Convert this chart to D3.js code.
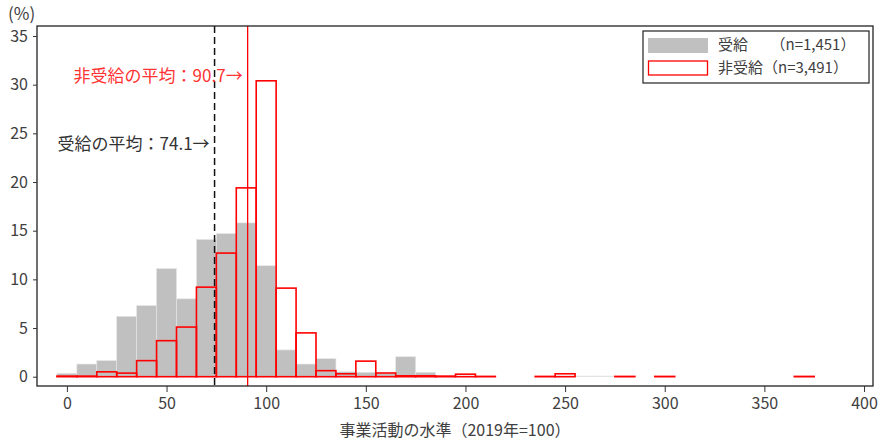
<!DOCTYPE html>
<html>
<head>
<meta charset="utf-8">
<script src="https://cdn.jsdelivr.net/npm/d3@7"></script>
<style>
  body { margin: 0; background: #fff; }
  svg text { font-family: "Noto Sans CJK JP", "Noto Sans", sans-serif; }
</style>
</head>
<body>
<svg id="chart"></svg>
<script>
// bins are 10 wide, centred on the listed value
const receivedCenters = [0, 10, 20, 30, 40, 50, 60, 70, 80, 90, 100, 110, 120, 130, 140, 150, 160, 170, 180, 190, 200, 210, 250, 260, 270];
const receivedValues  = [0.35, 1.3, 1.65, 6.2, 7.3, 11.1, 8.0, 14.1, 14.7, 15.8, 11.4, 2.75, 1.3, 1.85, 0.5, 0.45, 0.35, 2.05, 0.45, 0.07, 0.07, 0.07, 0.07, 0.07, 0.07];

const nonCenters = [0, 10, 20, 30, 40, 50, 60, 70, 80, 90, 100, 110, 120, 130, 140, 150, 160, 170, 180, 190, 200, 210, 240, 250, 280, 300, 370];
const nonValues  = [0.06, 0.06, 0.5, 0.37, 1.65, 3.7, 5.1, 9.2, 12.7, 19.4, 30.4, 9.1, 4.5, 0.62, 0.3, 1.6, 0.38, 0.09, 0.09, 0.06, 0.26, 0.03, 0.03, 0.3, 0.03, 0.03, 0.03];

const binWidth = 10;
const meanReceived = 74.1;
const meanNon = 90.7;

const xTicks = [0, 50, 100, 150, 200, 250, 300, 350, 400];
const yTicks = [0, 5, 10, 15, 20, 25, 30, 35];

const legendLabels = ["受給　　（n=1,451）", "非受給（n=3,491）"];
const xTitle = "事業活動の水準（2019年=100）";
const yTitle = "(%)";

const width = 879, height = 444;
const plot = {left: 37, top: 26, right: 873, bottom: 386};
const textColor = "#404040";

const svg = d3.select("#chart").attr("width", width).attr("height", height);

let x = d3.scaleLinear().domain([-15, 404.5]).range([plot.left, plot.right]);
let y = d3.scaleLinear().domain([-0.955, 36.03]).range([plot.bottom, plot.top]);

let received = receivedCenters.map((c, i) => ({c: c, v: receivedValues[i]}));
let non = nonCenters.map((c, i) => ({c: c, v: nonValues[i]}));

// gray bars
svg.append("g").selectAll("rect")
  .data(received)
  .enter().append("rect")
  .attr("x", d => x(d.c - binWidth / 2))
  .attr("width", d => x(d.c + binWidth / 2) - x(d.c - binWidth / 2))
  .attr("y", d => y(d.v))
  .attr("height", d => y(0) - y(d.v))
  .attr("fill", "#c0c0c0")
  .attr("stroke", "#e4e4e4")
  .attr("stroke-width", 0.6);

// red outline bars
svg.append("g").selectAll("rect")
  .data(non)
  .enter().append("rect")
  .attr("x", d => x(d.c - binWidth / 2))
  .attr("width", d => x(d.c + binWidth / 2) - x(d.c - binWidth / 2))
  .attr("y", d => y(d.v))
  .attr("height", d => y(0) - y(d.v))
  .attr("fill", "none")
  .attr("stroke", "#ff0000")
  .attr("stroke-width", 1.6);

// mean lines
svg.append("line")
  .attr("x1", x(meanReceived)).attr("x2", x(meanReceived))
  .attr("y1", plot.top).attr("y2", plot.bottom)
  .attr("stroke", "#111").attr("stroke-width", 1.5)
  .attr("stroke-dasharray", "7,4");

svg.append("line")
  .attr("x1", x(meanNon)).attr("x2", x(meanNon))
  .attr("y1", plot.top).attr("y2", plot.bottom)
  .attr("stroke", "#ff0000").attr("stroke-width", 1.3);

// annotations
svg.append("text")
  .attr("x", x(meanNon) - 5).attr("y", y(30.8))
  .attr("text-anchor", "end").attr("dominant-baseline", "middle")
  .attr("fill", "#ff3333").style("font-size", "17px")
  .text("非受給の平均：" + meanNon + "→");

svg.append("text")
  .attr("x", x(meanReceived) - 5).attr("y", y(23.8))
  .attr("text-anchor", "end").attr("dominant-baseline", "middle")
  .attr("fill", "#333").style("font-size", "17px")
  .text("受給の平均：" + meanReceived + "→");

// frame
svg.append("rect")
  .attr("x", plot.left).attr("y", plot.top)
  .attr("width", plot.right - plot.left).attr("height", plot.bottom - plot.top)
  .attr("fill", "none").attr("stroke", "#222").attr("stroke-width", 1.3);

// axes
let yAxis = svg.append("g")
  .attr("transform", `translate(${plot.left},0)`)
  .call(d3.axisLeft(y).tickValues(yTicks).tickSize(4).tickPadding(5));
yAxis.select(".domain").remove();
yAxis.selectAll("line").attr("stroke", "#333");
yAxis.selectAll("text").attr("fill", textColor).style("font-size", "16px");

let xAxis = svg.append("g")
  .attr("transform", `translate(0,${plot.bottom})`)
  .call(d3.axisBottom(x).tickValues(xTicks).tickSize(6).tickPadding(6));
xAxis.select(".domain").remove();
xAxis.selectAll("line").attr("stroke", "#333");
xAxis.selectAll("text").attr("fill", textColor).style("font-size", "16px");

svg.append("text")
  .attr("x", (plot.left + plot.right) / 2).attr("y", 432)
  .attr("text-anchor", "middle").attr("dominant-baseline", "middle")
  .attr("fill", textColor).style("font-size", "16px")
  .text(xTitle);

svg.append("text")
  .attr("x", 8).attr("y", 20)
  .attr("fill", textColor).style("font-size", "17px")
  .text(yTitle);

// legend
let legend = svg.append("g");
legend.append("rect")
  .attr("x", 643).attr("y", 31).attr("width", 226).attr("height", 52)
  .attr("fill", "#fff").attr("stroke", "#222").attr("stroke-width", 1.2);
legend.append("rect")
  .attr("x", 648).attr("y", 38).attr("width", 60).attr("height", 15)
  .attr("fill", "#c0c0c0");
legend.append("rect")
  .attr("x", 648.5).attr("y", 61).attr("width", 59).attr("height", 14)
  .attr("fill", "#fff").attr("stroke", "#ff0000").attr("stroke-width", 1.3);
legend.selectAll("text.lg")
  .data(legendLabels)
  .enter().append("text")
  .attr("class", "lg")
  .attr("x", 718).attr("y", (d, i) => 46 + i * 22.5)
  .attr("dominant-baseline", "middle")
  .attr("fill", textColor).style("font-size", "15px")
  .text(d => d);
</script>
</body>
</html>
